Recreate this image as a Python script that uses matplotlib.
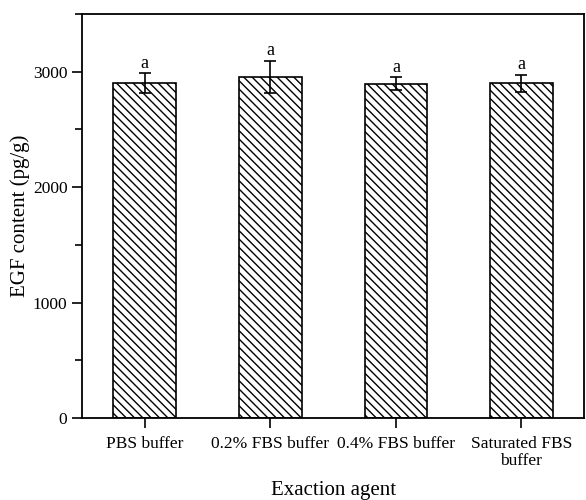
import matplotlib
matplotlib.use('Agg')
import matplotlib.pyplot as plt
from matplotlib.ticker import MultipleLocator

# datos
categorias = ['PBS buffer', '0.2% FBS buffer', '0.4% FBS buffer', 'Saturated FBS\nbuffer']
valores = [2900, 2955, 2895, 2900]
errores = [85, 140, 55, 75]
letras = ['a', 'a', 'a', 'a']

plt.rcParams['font.family'] = ['Liberation Serif', 'DejaVu Serif']
plt.rcParams['hatch.linewidth'] = 1.0

fig = plt.figure(figsize=(5.86, 5.0), dpi=100)
ax = fig.add_axes([0.14, 0.164, 0.857, 0.808])

x = list(range(len(categorias)))
ax.bar(x, valores, width=0.5, color='white', edgecolor='black',
       hatch='\\\\\\\\', linewidth=1.2)
ax.errorbar(x, valores, yerr=errores, fmt='none', ecolor='black',
            elinewidth=1.2, capsize=4, capthick=1.2)

for xi, v, e, l in zip(x, valores, errores, letras):
    ax.text(xi, v + e + 15, l, ha='center', va='bottom', fontsize=13)

ax.set_xlim(-0.5, 3.5)
ax.set_ylim(0, 3500)
ax.set_xticks(x)
ax.set_xticklabels(categorias, fontsize=12.5, linespacing=1.1)
ax.yaxis.set_major_locator(MultipleLocator(1000))
ax.yaxis.set_minor_locator(MultipleLocator(500))
ax.tick_params(axis='both', which='major', direction='out', length=7, width=1.2, labelsize=12.5)
ax.tick_params(axis='y', which='minor', direction='out', length=5, width=1.2)
ax.tick_params(axis='x', pad=6)

for s in ax.spines.values():
    s.set_linewidth(1.3)

ax.set_ylabel('EGF content (pg/g)', fontsize=15, labelpad=2)
ax.set_xlabel('Exaction agent', fontsize=15)
ax.xaxis.set_label_coords(0.5, -0.155)

fig.savefig('out.png', dpi=100)
